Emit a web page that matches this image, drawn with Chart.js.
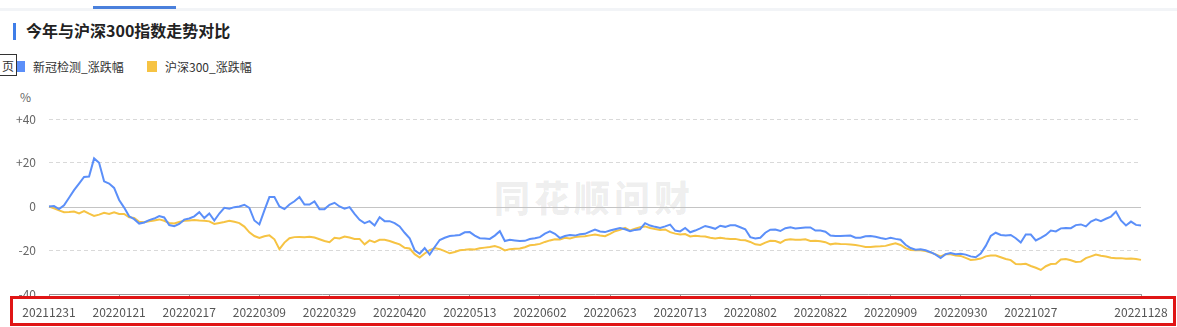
<!DOCTYPE html>
<html>
<head>
<meta charset="utf-8">
<script src="https://cdn.jsdelivr.net/npm/chart.js@4"></script>
<style>
  html, body { margin: 0; padding: 0; background: #fff; }
  body { width: 1177px; height: 327px; position: relative; overflow: hidden;
         font-family: "Noto Sans CJK SC", "Noto Sans", sans-serif; }
  .topline { position: absolute; left: 0; top: 8px; width: 1177px; height: 3px; background: #f2f4f7; }
  .tab { position: absolute; left: 93px; top: 6px; width: 83px; height: 3px; background: #4a80dc; }
  .title { position: absolute; left: 13px; top: 20px; height: 20px; line-height: 20px;
           font-size: 16px; font-weight: bold; color: #222; }
  .title .bar { display: inline-block; width: 3px; height: 17px; background: #3f7ee8;
                vertical-align: -3px; margin-right: 10px; }
  .legend { position: absolute; top: 58px; height: 18px; line-height: 18px; font-size: 12px; color: #333; }
  .legend i { position: absolute; left: 0; top: 3px; width: 10px; height: 11px; }
  .legend span { padding-left: 18px; }
  .pagebox { position: absolute; left: -1px; top: 54px; width: 18px; height: 22px; border: 1px solid #333;
             background: #fff; font-size: 12px; line-height: 22px; text-align: center; color: #333; box-sizing: border-box; }
  .unit { position: absolute; left: 20px; top: 88px; font-size: 12px; color: #666; }
  .watermark { position: absolute; left: 494px; top: 170px; font-size: 36px; font-weight: 900;
               letter-spacing: 4px; color: rgba(0,0,0,0.07); }
  .redbox { position: absolute; left: 10px; top: 296px; width: 1166px; height: 30px;
            border: 3px solid #e01515; box-sizing: border-box; }
  #wrap { position: absolute; left: 0; top: 0; width: 1177px; height: 327px; }
</style>
</head>
<body>
<div class="topline"></div>
<div class="tab"></div>
<div class="title"><span class="bar"></span>今年与沪深300指数走势对比</div>
<div class="legend" style="left:15px"><i style="background:#5B8FF9"></i><span>新冠检测_涨跌幅</span></div>
<div class="legend" style="left:147px"><i style="background:#F6C343"></i><span>沪深300_涨跌幅</span></div>
<div class="pagebox">页</div>
<div class="unit">%</div>
<div class="watermark">同花顺问财</div>
<div id="wrap"><canvas id="trendChart"></canvas></div>
<div class="redbox"></div>
<script>
const dates = [
    '20211231',
    '20220104', '20220105', '20220106', '20220107', '20220110', '20220111', '20220112', '20220113', '20220114', '20220117',
    '20220118', '20220119', '20220120', '20220121', '20220124', '20220125', '20220126', '20220127', '20220128',
    '20220207', '20220208', '20220209', '20220210', '20220211', '20220214', '20220215', '20220216', '20220217', '20220218',
    '20220221', '20220222', '20220223', '20220224', '20220225', '20220228',
    '20220301', '20220302', '20220303', '20220304', '20220307', '20220308', '20220309', '20220310', '20220311', '20220314',
    '20220315', '20220316', '20220317', '20220318', '20220321', '20220322', '20220323', '20220324', '20220325', '20220328',
    '20220329', '20220330', '20220331',
    '20220401', '20220406', '20220407', '20220408', '20220411', '20220412', '20220413', '20220414', '20220415', '20220418',
    '20220419', '20220420', '20220421', '20220422', '20220425', '20220426', '20220427', '20220428', '20220429',
    '20220505', '20220506', '20220509', '20220510', '20220511', '20220512', '20220513', '20220516', '20220517', '20220518',
    '20220519', '20220520', '20220523', '20220524', '20220525', '20220526', '20220527', '20220530', '20220531',
    '20220601', '20220602', '20220606', '20220607', '20220608', '20220609', '20220610', '20220613', '20220614', '20220615',
    '20220616', '20220617', '20220620', '20220621', '20220622', '20220623', '20220624', '20220627', '20220628', '20220629',
    '20220630',
    '20220701', '20220704', '20220705', '20220706', '20220707', '20220708', '20220711', '20220712', '20220713', '20220714',
    '20220715', '20220718', '20220719', '20220720', '20220721', '20220722', '20220725', '20220726', '20220727', '20220728',
    '20220729',
    '20220801', '20220802', '20220803', '20220804', '20220805', '20220808', '20220809', '20220810', '20220811', '20220812',
    '20220815', '20220816', '20220817', '20220818', '20220819', '20220822', '20220823', '20220824', '20220825', '20220826',
    '20220829', '20220830', '20220831',
    '20220901', '20220902', '20220905', '20220906', '20220907', '20220908', '20220909', '20220913', '20220914', '20220915',
    '20220916', '20220919', '20220920', '20220921', '20220922', '20220923', '20220926', '20220927', '20220928', '20220929',
    '20220930',
    '20221010', '20221011', '20221012', '20221013', '20221014', '20221017', '20221018', '20221019', '20221020', '20221021',
    '20221024', '20221025', '20221026', '20221027', '20221028', '20221031',
    '20221101', '20221102', '20221103', '20221104', '20221107', '20221108', '20221109', '20221110', '20221111', '20221114',
    '20221115', '20221116', '20221117', '20221118', '20221121', '20221122', '20221123', '20221124', '20221125', '20221128'
];

const tickLabels = ['20211231', '20220121', '20220217', '20220309', '20220329', '20220420', '20220513', '20220602',
    '20220623', '20220713', '20220802', '20220822', '20220909', '20220930', '20221027', '20221128'];

const yTicks = [-40, -20, 0, 20, 40];

// 新冠检测_涨跌幅 (%)
const testingChange = [
    0, 0.2, -1.2, 0.5, 4, 7.5, 10.5, 13.5, 13.7, 22,
    20, 11.5, 10.5, 8.5, 3, -0.5, -4.5, -5.8, -7.8, -7.3,
    -6.2, -5.5, -4.4, -5, -8.5, -9, -8, -6, -5.5, -4.5,
    -2.6, -5.3, -3.2, -6.4, -3.2, -0.6, -1, -0.3, 0, 0.8,
    -0.6, -6.4, -8.2, -1.8, 4.3, 4.3, 0, -1.2, 0.9, 2.4,
    4.3, 0.9, 0.9, 2.3, -1.2, -1.2, 0.8, 1.7, 0, -1,
    -0.3, -3.4, -6.1, -7.6, -6.7, -8.7, -4.9, -6.7, -6.7, -7.6,
    -9.1, -12, -14.5, -20, -21.6, -19, -22, -18.5, -15.3, -14.3,
    -13.5, -13.3, -13, -11.8, -11.7, -13.3, -14.5, -14.6, -14.8, -13.3,
    -11.3, -15.8, -15.2, -15.5, -15.8, -15.7, -14.9, -14.5, -14, -12.4,
    -11.4, -12.5, -14.4, -13.5, -13, -13.3, -12.7, -12.5, -11.5, -10.5,
    -11.4, -11.7, -11, -10.4, -9.8, -10.4, -11.3, -10.7, -10.4, -7.6,
    -8.7, -9.3, -9.8, -9.1, -8.3, -11, -11.4, -9.8, -11.8, -11,
    -10, -8.9, -9.5, -10.2, -8.8, -9.3, -8.6, -8.6, -9.5, -10.4,
    -14, -14.6, -14.3, -12, -10.6, -10.5, -11.2, -9.9, -9.5, -10,
    -9.8, -9.6, -9.6, -11, -11, -11.5, -13.3, -13.5, -13.5, -13.4,
    -13.3, -14.3, -14.3, -13.6, -13.5, -13.8, -14.4, -14.9, -14.3, -14.8,
    -15.2, -17.5, -19, -19.8, -19.6, -20, -20.9, -22, -23.6, -21.8,
    -21.3, -21.8, -21.6, -22, -22.8, -23.2, -21.5, -18, -13.5, -12,
    -13, -13.3, -13, -14.5, -16.5, -12.8, -12.8, -15.5, -14.3, -13,
    -11, -11.4, -10, -9.8, -9.9, -8.5, -8.2, -9.1, -6.9, -5.9,
    -6.7, -5.6, -4.6, -2.3, -6.4, -8.7, -6.9, -8.4, -8.7
];

// 沪深300_涨跌幅 (%)
const hs300Change = [
    0, -0.8, -1.8, -2.6, -2.5, -2.3, -3.2, -2.1, -3.3, -4.3,
    -3.7, -2.9, -3.4, -2.6, -3.4, -3.4, -4.9, -5.2, -7, -7.2,
    -6.7, -6.4, -5.9, -6.5, -7.5, -7.8, -7.1, -6.5, -6.4, -6.2,
    -6.4, -6.5, -6.8, -8, -7.5, -7.1, -6.5, -7, -7.6, -9.2,
    -11.8, -13.5, -14.4, -13.6, -13.2, -15, -19.5, -16.5, -14.5, -14,
    -13.9, -14, -13.8, -14.2, -15, -15.8, -16.3, -14.3, -14.6, -13.7,
    -14.2, -14.8, -14.8, -17.3, -15.5, -16.3, -15.2, -15.2, -15.8, -16.6,
    -17.3, -18.9, -19.2, -21.8, -23.3, -21.5, -20, -19, -19.5, -20.4,
    -21.4, -20.8, -20, -19.8, -19.5, -19.6, -19.1, -18.8, -18.5, -18.1,
    -18.8, -20.1, -19.5, -19.3, -19.2, -18.6, -17.7, -17.5, -17.1, -16.2,
    -15.5, -15, -15.1, -14.3, -14.6, -14, -13.7, -13.6, -13.2, -12.8,
    -13.3, -13.6, -12.5, -11.3, -10.7, -9.8, -11, -10.2, -9.5, -9.1,
    -9.8, -10.3, -10.7, -10.5, -11.7, -12.4, -12.8, -12.6, -13.7, -13.4,
    -13.6, -13.7, -14.3, -14.6, -14.3, -14.6, -14.8, -14.8, -15.3, -15.4,
    -16.2, -17.3, -17.6, -16.5, -15.7, -15.8, -16.6, -15.3, -15, -15.2,
    -15.2, -15, -15.8, -15.7, -15.9, -16.3, -17.3, -16.9, -17.1, -17.2,
    -17.4, -17.6, -18, -18.5, -18.5, -18.3, -18.2, -18, -17.4, -16.8,
    -17.6, -19, -19.9, -20, -20, -20.4, -21, -21.9, -22.8, -21.8,
    -21.8, -22.4, -22.6, -23.5, -24.4, -24.2, -23.8, -22.8, -22.4, -22.4,
    -23.2, -24, -24.5, -26.3, -26.4, -26.2, -27.2, -28, -29, -27.3,
    -26.3, -26.2, -24.2, -24, -24.6, -25.4, -25.2, -23.6, -22.8, -22,
    -22.5, -22.9, -23.4, -23.6, -23.6, -23.9, -23.8, -24, -24.4
];

// solid zero line like the original
const zeroLine = {
    id: 'zeroLine',
    beforeDatasetsDraw(chart) {
        const { ctx, chartArea, scales } = chart;
        const y = Math.round(scales.y.getPixelForValue(0)) + 0.5;
        ctx.save();
        ctx.strokeStyle = '#c4c4c4';
        ctx.lineWidth = 1;
        ctx.beginPath();
        ctx.moveTo(chartArea.left, y);
        ctx.lineTo(chartArea.right, y);
        ctx.stroke();
        ctx.restore();
    }
};

let trendCanvas = document.getElementById('trendChart');
let trendChart = new Chart(trendCanvas, {
    type: 'line',
    data: {
        labels: dates,
        datasets: [
            {
                label: '新冠检测_涨跌幅',
                data: testingChange,
                borderColor: '#5B8FF9',
                borderWidth: 2,
                pointRadius: 0,
                fill: false,
                tension: 0
            },
            {
                label: '沪深300_涨跌幅',
                data: hs300Change,
                borderColor: '#F6C343',
                borderWidth: 2,
                pointRadius: 0,
                fill: false,
                tension: 0
            }
        ]
    },
    options: {
        responsive: true,
        maintainAspectRatio: false,
        animation: false,
        layout: {
            padding: { top: 119, right: 36, left: 0, bottom: 0 }
        },
        plugins: {
            legend: { display: false },
            title: { display: false },
            tooltip: { enabled: false }
        },
        scales: {
            x: {
                offset: false,
                afterFit: function (scale) { scale.height = 33; },
                grid: {
                    drawOnChartArea: false,
                    drawTicks: true,
                    tickLength: 5,
                    color: '#9a9a9a',
                    tickColor: '#9a9a9a'
                },
                border: { display: true, color: '#9a9a9a', width: 1 },
                ticks: {
                    autoSkip: false,
                    maxRotation: 0,
                    minRotation: 0,
                    padding: 6,
                    color: '#555',
                    font: { family: '"Noto Sans CJK SC", "Noto Sans", sans-serif', size: 12 },
                    callback: function (value) {
                        let label = this.getLabelForValue(value);
                        return tickLabels.includes(label) ? label : null;
                    }
                }
            },
            y: {
                min: yTicks[0],
                max: yTicks[yTicks.length - 1],
                afterFit: function (scale) { scale.width = 49; },
                afterBuildTicks: function (scale) {
                    scale.ticks = yTicks.map(v => ({ value: v }));
                },
                grid: {
                    drawTicks: false,
                    color: function (context) {
                        let v = context.tick ? context.tick.value : null;
                        return (v === 0 || v === yTicks[0]) ? 'rgba(0,0,0,0)' : '#d9d9d9';
                    }
                },
                border: { display: false, dash: [4, 3] },
                ticks: {
                    padding: 13,
                    color: '#666',
                    font: { family: '"Noto Sans CJK SC", "Noto Sans", sans-serif', size: 12 },
                    callback: function (value) {
                        return value > 0 ? '+' + value : String(value);
                    }
                }
            }
        }
    },
    plugins: [zeroLine]
});
</script>
</body>
</html>
